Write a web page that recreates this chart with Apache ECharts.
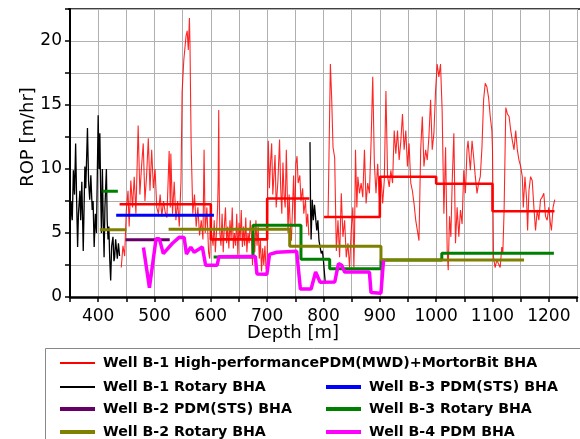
<!DOCTYPE html>
<html><head><meta charset="utf-8">
<script src="https://cdn.jsdelivr.net/npm/echarts@6/dist/echarts.min.js"></script>
<style>html,body{margin:0;padding:0;background:#fff}#c{width:580px;height:439px}</style>
</head><body><div id="c"></div>
<script>
// ---------- data (depth [m], ROP [m/hr]) ----------
const nameRed = 'Well B-1 High-performancePDM(MWD)+MortorBit BHA';
const nameBlack = 'Well B-1 Rotary BHA';
const namePurple = 'Well B-2 PDM(STS) BHA';
const nameOlive = 'Well B-2 Rotary BHA';
const nameBlue = 'Well B-3 PDM(STS) BHA';
const nameGreen = 'Well B-3 Rotary BHA';
const nameMagenta = 'Well B-4 PDM BHA';

const xTicks = [400, 500, 600, 700, 800, 900, 1000, 1100, 1200];
const yTicks = [0, 5, 10, 15, 20];

// B-1 high-performance PDM: raw ROP
const redDepthA = [441,444,447,450,453,455,458,461,464,467,471,474,477,480,483,486,489,492,495,498,501,504,507,510,513,516,519,522,526,528,529,532,535,538,541,544,547,549,552,556,558,560,562,563,565,568,571,574,577,580,583,586,588,590,593,596,598,600,
602,604,606,608,610,612,613,614,615,616,618,620,622,624,626,628,630,632,634,636,638,640,642,644,646,648,650,652,654,656,658,660,662,664,666,668,670,672,674,676,678,680,682,684,686,688,690,692,694,696,698,
700,701,702,704,706,708,710,712,714,716,719,722,724,726,728,730,732,734,736,737,739,741,743,745,747,749,751,753,755,758,760,763,765,768,770,772,774];
const redRopA = [2.3,4.0,3.2,6.8,8.3,5.5,9.1,7.0,9.4,6.5,13.4,8.0,10.2,12.0,7.5,9.5,12.4,8.3,11.5,8.5,10.0,7.0,6.5,8.0,6.3,7.5,6.6,6.2,11.4,7.0,11.2,6.5,9.0,6.0,7.5,5.5,9.0,16.0,18.5,20.4,20.8,19.3,21.8,19.7,12.0,6.5,8.0,5.5,7.0,4.8,6.0,4.5,11.5,5.0,7.0,3.5,3.0,5.5,
5.5,4.0,6.0,3.5,5.0,7.0,9.0,14.6,8.0,5.0,4.0,6.5,3.5,5.5,7.0,4.2,5.5,3.8,6.0,4.5,7.0,3.8,5.0,4.0,6.5,3.2,5.8,4.5,6.8,3.9,5.5,4.0,6.2,3.5,5.0,4.2,6.0,4.8,2.5,5.0,3.5,6.0,4.0,5.5,3.0,4.5,2.0,3.8,2.5,4.0,2.2,
2.0,9.5,12.2,8.5,10.5,12.0,8.0,9.5,11.1,7.0,9.0,12.3,8.5,6.5,10.5,8.0,7.0,11.5,7.5,5.0,8.0,5.5,4.4,7.0,9.5,5.5,10.4,11.0,8.9,9.5,7.5,8.5,6.5,7.6,5.5,6.5,4.8];

const redDepthB = [808.1,812.2,814.6,816.9,819.8,822.8,825.7,828.6,831.6,834.5,837.5,840.4,843.3,846.3,849.2,852.1,853.9,855.1,856.8,859.2,861,863.9,866.8,869.7,872.7,875.6,878.5,881.5,884.4,887.4,890.3,893.2,896.2,899.1,902,905,907.9,910.8,913.8,916.7,919.6,922.6,925.5,928.4,931.4,934.3,937.3,940.2,943.1,946.1,949,951.9,954.9,957.8,960.7,963.7,966.6,969.5,972.5,975.4,978.3,981.3,984.2,987.1,990.1,993,996,998.9,1001.8,1004.8,1007.7,1010.6,
1013.7,1016.7,1019.6,1021.4,1023.7,1026.1,1028.4,1031.4,1034.3,1037.2,1040.2,1043.1,1046,1049,1051.9,1054.8,1056.6,1060.7,1063.7,1066.6,1069.5,1072.5,1075.4,1078.3,1081.3,1084.2,1087.1,1090.1,1093,1096,1098.9,1100,1101.8,1104.7,1107.7,1110.6,1113.6,1116.5,1118.3,1120.6,1123.6,1126.5,1129.4,1132.4,1135.3,1138.2,1141.2,1144.1,1147,1150,1152.9,1154.7,1157.6,1160.6,1162.3,1164.7,1167.6,1170.5,1173.5,1176.4,1179.4,1182.3,1185.2,1188.2,1191.1,1194.1,1197,1199.9,1202.9,1204.6,1207.5,1210.5];
const redRopB = [6.25,18.2,15.4,11.7,10.9,3.6,6.0,3.1,8.1,4.7,6.0,3.1,4.2,2.3,5.2,7.0,2.3,4.7,11.5,7.0,9.4,8.1,8.9,7.8,11.5,7.3,8.9,8.1,12.0,17.2,10.4,8.1,10.4,7.8,9.4,7.3,9.1,16.1,9.4,8.6,9.9,8.9,13.0,11.2,13.0,10.7,12.2,14.3,11.5,13.0,10.2,12.0,8.9,8.3,7.3,6.0,5.2,4.4,11.5,14.1,10.2,11.5,10.7,12.5,15.4,11.5,12.8,16.1,18.2,17.2,18.2,14.6,
6.5,11.7,3.6,2.1,6.3,4.7,8.9,12.8,4.2,7.0,4.7,6.8,5.7,9.9,8.1,11.5,12.2,9.9,12.2,10.9,9.4,8.1,8.9,9.4,11.7,15.4,16.7,16.4,15.6,14.1,13.0,11.5,3.1,2.3,2.9,2.6,2.3,3.9,3.4,6.8,14.8,14.3,14.1,13.0,12.2,11.5,13.0,11.5,10.7,10.2,9.4,7.0,9.4,7.6,5.2,8.3,9.4,9.1,7.0,5.2,6.8,6.0,7.6,7.8,8.1,6.3,6.0,7.0,5.7,5.2,7.0,7.6];

// B-1 high-performance PDM: interval averages (step starts)
const redStepDepthA = [438, 600, 700, 775];
const redStepRopA = [7.25, 4.5, 7.7, 7.7];
const redStepDepthB = [801, 900, 1000, 1100, 1210];
const redStepRopB = [6.25, 9.4, 8.85, 6.7, 6.7];

// B-1 rotary: raw ROP
const blackDepthA = [350,352,354,356,358,360,362,363.5,365,367.6,369,371,373.5,375,376.4,378,381,383,385,387,389.4,391,392.9,395,397,400,401.5,403,404.5,405.8,407.5,409,410.5,412,414.6,416,417.5,419,420.5,422.2,424,426.3,428,429.3,431,432.2,434,436,438];
const blackRopA = [5.0,7.5,6.0,9.9,8.0,12.0,7.0,3.9,6.5,8.3,6.0,9.0,3.6,7.0,10.2,8.5,13.2,9.0,7.6,9.5,6.8,7.5,3.9,6.5,5.0,14.2,10.0,12.8,8.0,5.0,10.0,6.0,3.1,7.0,10.0,6.0,4.5,5.5,3.0,1.3,4.0,4.7,2.8,3.1,4.5,4.5,3.0,4.2,3.2];
const blackDepthB = [776,777,778,780,782,784,786,788,790,792,794,796,798,800,802,803];
const blackRopB = [12.1,7.0,4.5,7.6,6.0,7.2,6.2,5.2,6.0,4.4,3.9,3.4,3.6,2.8,1.7,1.2];

// interval averages (step starts)
const blueDepth = [432, 605.5];
const blueRop = [6.38, 6.38];
const purpleDepth = [448.7, 527];
const purpleRop = [4.48, 4.48];
const oliveDepthA = [403, 450];
const oliveRopA = [5.26, 5.26];
const oliveDepthB = [525, 740, 902, 1156];
const oliveRopB = [5.3, 3.97, 2.9, 2.9];
const greenDepthA = [407.6, 435];
const greenRopA = [8.26, 8.26];
const greenDepthB = [605, 675, 760, 811, 902, 1010, 1209];
const greenRopB = [3.13, 5.6, 2.95, 2.2, 2.9, 3.42, 3.42];

// B-4 PDM
const magentaDepth = [480.4,491,502.8,508.6,515.6,532,543.8,552.6,556.7,564.4,570.3,584.9,590.8,611.3,614.3,679,681.8,699.5,704.2,717.1,752.3,759,778,786,794,820,826.5,832,837.5,881.5,884.4,902,906.5];
const magentaRop = [3.86,0.72,4.55,4.56,3.39,4.2,4.66,4.64,3.36,3.9,3.5,3.9,2.48,2.48,3.15,3.17,1.8,1.77,3.33,3.5,3.58,0.62,0.62,1.95,1.15,1.17,2.6,2.5,1.95,1.95,0.35,0.3,2.87];

// ---------- chart ----------
const zip = (a, b) => a.map((v, i) => [v, b[i]]);
const FONT = 'DejaVu Sans';
const C = {red:'#ff0000', black:'#000000', blue:'#0000ff', purple:'#660066', olive:'#808000', green:'#008000', magenta:'#ff00ff'};

function line(name, color, d, width, extra) {
  return Object.assign({type:'line', name, data:d, showSymbol:false, symbol:'none',
    lineStyle:{color, width}, itemStyle:{color}, emphasis:{disabled:true}, silent:true}, extra||{});
}

const series = [
  line(nameRed, C.red, zip(redDepthA, redRopA), 1.1, {lineStyle:{color:C.red, width:1.1, opacity:0.85}}),
  line(nameRed, C.red, zip(redDepthB, redRopB), 1.1, {lineStyle:{color:C.red, width:1.1, opacity:0.85}}),
  line(nameBlack, C.black, zip(blackDepthA, blackRopA), 1.3),
  line(nameBlack, C.black, zip(blackDepthB, blackRopB), 1.3),
  line(nameRed, C.red, zip(redStepDepthA, redStepRopA), 2.6, {step:'end'}),
  line(nameRed, C.red, zip(redStepDepthB, redStepRopB), 2.6, {step:'end'}),
  line(nameBlue, C.blue, zip(blueDepth, blueRop), 3, {step:'end'}),
  line(namePurple, C.purple, zip(purpleDepth, purpleRop), 3, {step:'end'}),
  line(nameGreen, C.green, zip(greenDepthA, greenRopA), 3, {step:'end'}),
  line(nameGreen, C.green, zip(greenDepthB, greenRopB), 3, {step:'end'}),
  line(nameOlive, C.olive, zip(oliveDepthA, oliveRopA), 3, {step:'end'}),
  line(nameOlive, C.olive, zip(oliveDepthB, oliveRopB), 3, {step:'end'}),
  line(nameMagenta, C.magenta, zip(magentaDepth, magentaRop), 3.5)
];

function leg(name, color, left, top, h) {
  return {data:[{name, icon:'rect', itemStyle:{color}}], left, top, padding:0, itemWidth:35, itemHeight:h,
    selectedMode:false, textStyle:{fontFamily:FONT, fontWeight:'bold', fontSize:14.2, color:'#000', padding:[0,0,0,3]}};
}

const chart = echarts.init(document.getElementById('c'), null, {renderer:'canvas'});
chart.setOption({
  animation:false,
  grid:{left:70, right:0, top:9, bottom:142, containLabel:false},
  xAxis:{type:'value', min:350, max:1250, interval:50,
    axisLine:{show:true, onZero:false, lineStyle:{color:'#000', width:2.5}},
    axisTick:{show:true, length:5, lineStyle:{color:'#000', width:1.5}},
    axisLabel:{fontFamily:FONT, fontSize:17, color:'#000', margin:11,
      formatter:v => xTicks.includes(v) ? String(v) : ''},
    splitLine:{show:true, lineStyle:{color:'#b0b0b0', width:1}}},
  yAxis:{type:'value', min:0, max:22.5, interval:2.5,
    axisLine:{show:true, onZero:false, lineStyle:{color:'#000', width:2}},
    axisTick:{show:true, length:5, lineStyle:{color:'#000', width:1.5}},
    axisLabel:{fontFamily:FONT, fontSize:17, color:'#000', margin:8,
      formatter:v => yTicks.includes(v) ? String(v) : ''},
    splitLine:{show:true, lineStyle:{color:'#b0b0b0', width:1}}},
  legend:[
    leg(nameRed, C.red, 60, 356, 2),
    leg(nameBlack, C.black, 60, 380, 2),
    leg(namePurple, C.purple, 60, 402, 4),
    leg(nameOlive, C.olive, 60, 425, 4),
    leg(nameBlue, C.blue, 326, 380, 4),
    leg(nameGreen, C.green, 326, 402, 4),
    leg(nameMagenta, C.magenta, 326, 425, 4)
  ],
  graphic:[
    {type:'line', shape:{x1:68, y1:9, x2:580, y2:9}, style:{stroke:'#000', lineWidth:1.5}, silent:true},
    {type:'rect', shape:{x:45.5, y:348.5, width:560, height:120}, style:{fill:'none', stroke:'#888', lineWidth:1}, silent:true},
    {type:'text', x:293, y:333, style:{text:'Depth [m]', font:'18px "DejaVu Sans"', fill:'#000', align:'center', verticalAlign:'middle'}, silent:true},
    {type:'text', x:28, y:137, rotation:Math.PI/2, style:{text:'ROP [m/hr]', font:'18px "DejaVu Sans"', fill:'#000', align:'center', verticalAlign:'middle'}, silent:true}
  ],
  series
});
</script></body></html>
